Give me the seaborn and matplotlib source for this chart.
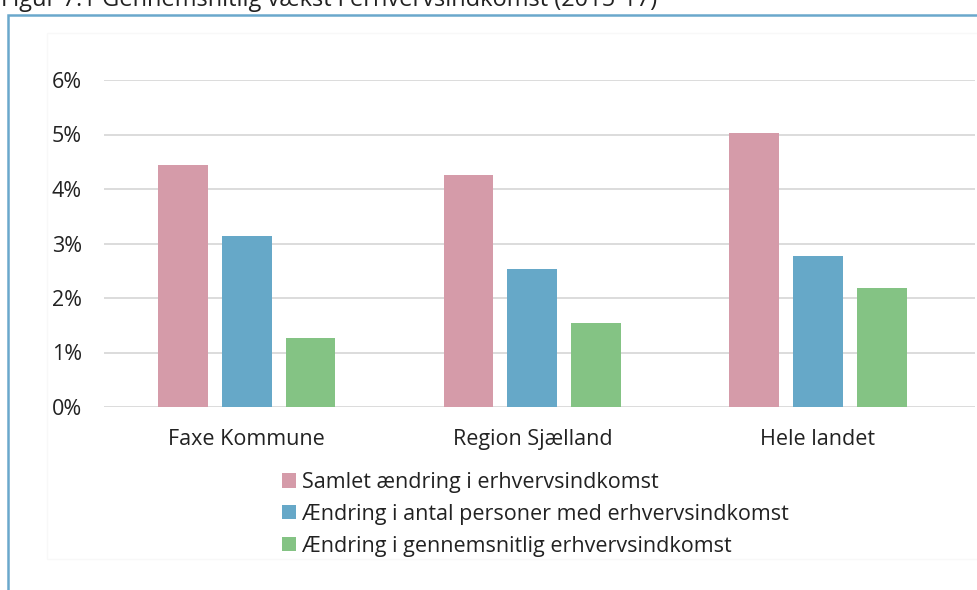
import seaborn as sns
import pandas as pd
import matplotlib.pyplot as plt
from matplotlib.patches import Rectangle
from matplotlib.ticker import PercentFormatter

categories = ["Faxe Kommune", "Region Sjælland", "Hele landet"]
series_names = [
    "Samlet ændring i erhvervsindkomst",
    "Ændring i antal personer med erhvervsindkomst",
    "Ændring i gennemsnitlig erhvervsindkomst",
]
samlet = [4.44, 4.26, 5.03]
antal = [3.14, 2.53, 2.77]
gennemsnit = [1.27, 1.54, 2.18]
colors = ["#D59BA9", "#66A8C8", "#84C384"]

df = pd.DataFrame({
    "kategori": categories * 3,
    "serie": [series_names[0]] * 3 + [series_names[1]] * 3 + [series_names[2]] * 3,
    "værdi": samlet + antal + gennemsnit,
})

sns.set_style("white")
plt.rcParams["font.family"] = ["Open Sans", "DejaVu Sans"]

W, H = 978, 590
fig = plt.figure(figsize=(W / 100, H / 100), dpi=100)
ax = fig.add_axes([104 / W, 1 - 407 / H, 871 / W, 327 / H])

sns.barplot(data=df, x="kategori", y="værdi", hue="serie", palette=colors,
            width=0.67, gap=0.22, saturation=1, linewidth=0, ax=ax, legend=True)

ax.set_xlim(-0.5, 2.55)
ax.set_ylim(0, 6)
ax.set_yticks([0, 1, 2, 3, 4, 5, 6])
ax.yaxis.set_major_formatter(PercentFormatter(decimals=0))
ax.grid(True, axis="y", color="#D9D9D9", linewidth=1.3)
ax.set_axisbelow(True)
for s in ax.spines.values():
    s.set_visible(False)
ax.tick_params(axis="both", length=0, labelsize=15.5, colors="#222222")
ax.tick_params(axis="y", pad=16)
ax.tick_params(axis="x", pad=16)
ax.set_xlabel("")
ax.set_ylabel("")

leg = ax.legend(loc="upper left", bbox_to_anchor=(282 / W, 1 - 472 / H),
                bbox_transform=fig.transFigure, frameon=False, fontsize=15.5,
                handlelength=0.65, handleheight=0.65, handletextpad=0.3,
                labelspacing=0.5, borderaxespad=0, borderpad=0)
for t in leg.get_texts():
    t.set_color("#222222")

# faint inner chart area
fig.patches.append(Rectangle((47 / W, 1 - 559 / H), 1.0, (559 - 33) / H,
                             transform=fig.transFigure, fill=False,
                             edgecolor="#F8F8F8", linewidth=1))
# outer frame
fig.patches.append(Rectangle((8 / W, -0.05), 1.1, 1 - 15 / H + 0.05,
                             transform=fig.transFigure, fill=False,
                             edgecolor="#6AA8CC", linewidth=1.8))

fig.text(1 / W, 1 - 6 / H, "Figur 7.1 Gennemsnitlig vækst i erhvervsindkomst (2015-17)",
         fontsize=17, va="baseline", ha="left", color="#222222")

fig.savefig("out.png", dpi=100)
